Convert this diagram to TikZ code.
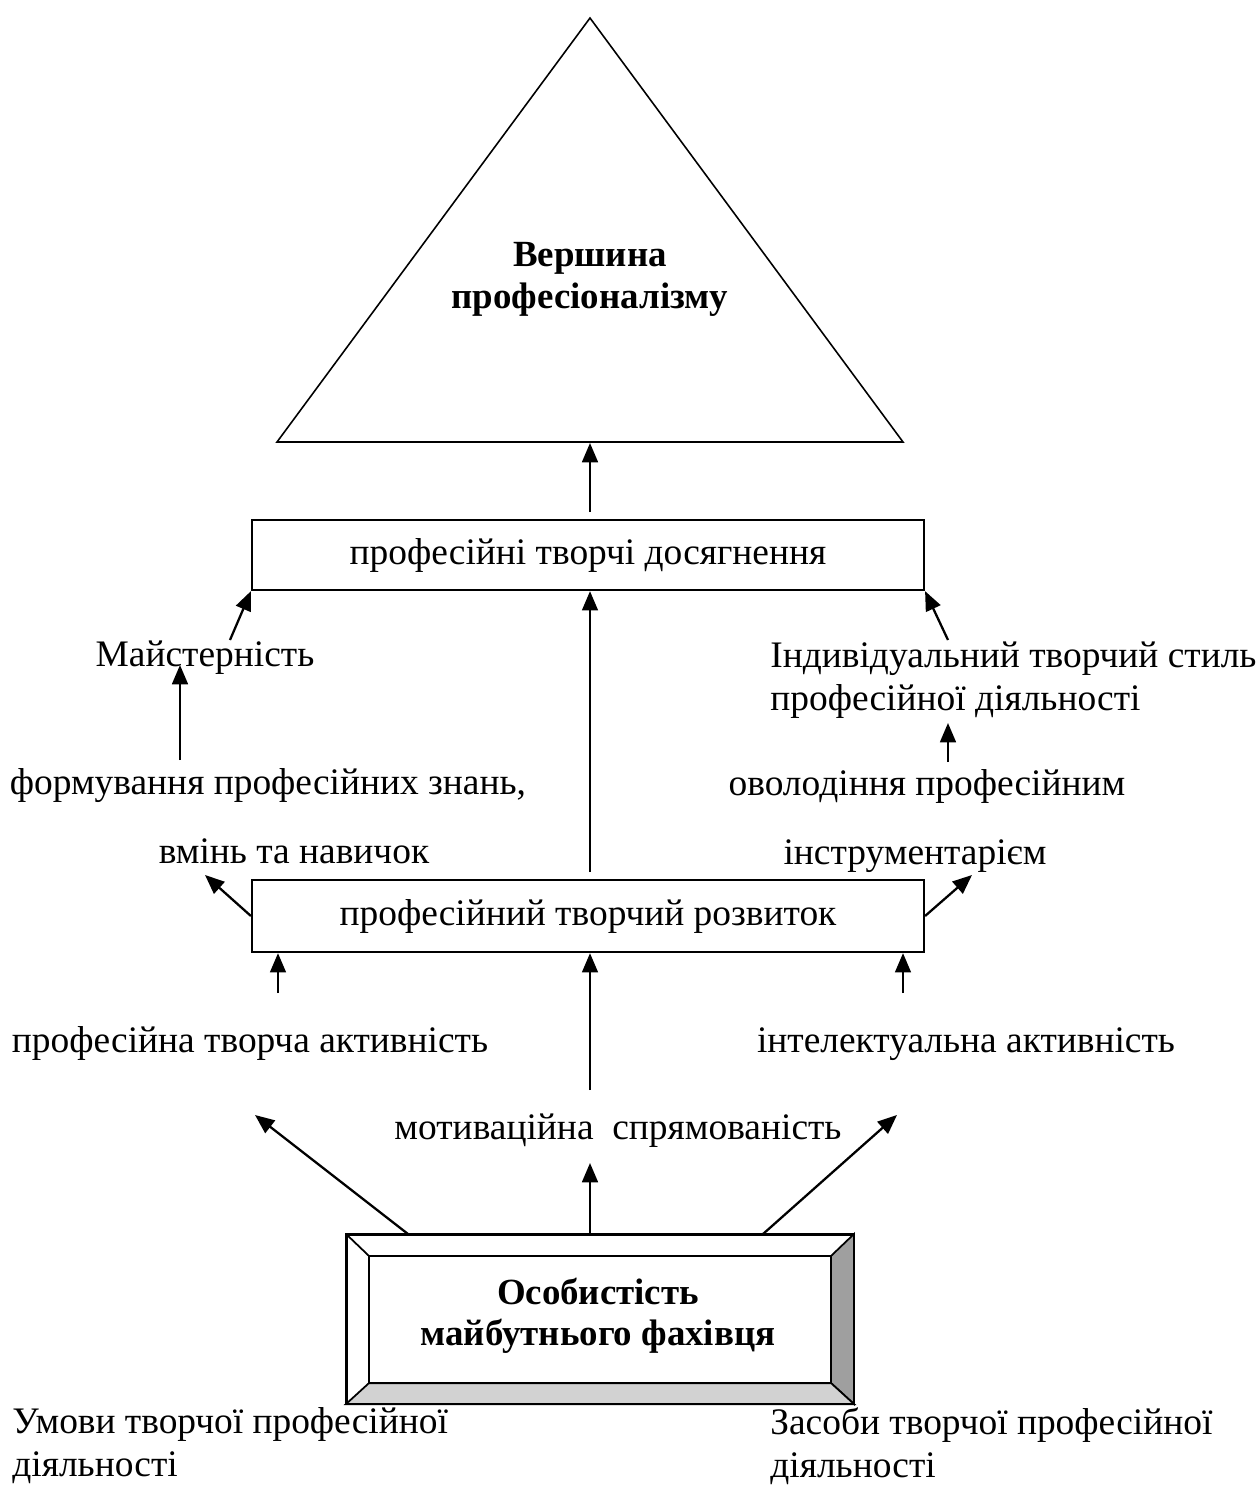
\documentclass[tikz,border=0pt]{standalone}
\usepackage{fontspec}
\setmainfont{Liberation Serif}
\usetikzlibrary{arrows.meta}
\tikzset{
  lbl/.style={inner sep=0pt, font=\fontsize{21.3}{24.5}\selectfont},
  boldlbl/.style={inner sep=0pt, align=center, font=\fontsize{21}{24}\selectfont\bfseries},
  stagebox/.style={draw, line width=1.3pt, minimum width=13.44cm, inner sep=0pt,
    font=\fontsize{21.3}{24.5}\selectfont},
  arr/.style={line width=1.3pt, -{Triangle[length=11pt,width=9pt]}},
}
\begin{document}
\begin{tikzpicture}[x=0.02cm, y=-0.02cm]
\useasboundingbox (0,0) rectangle (1260,1488);
% vertex
\draw[line width=0.9pt] (590,18) -- (903,442) -- (277,442) -- cycle;
\coordinate (apexbase) at (590,443);
\node[boldlbl] (peak) at (590,279) {Вершина\\професіоналізму};
% stage boxes
\node[stagebox, minimum height=1.4cm] (achieve) at (588,555) {професійні творчі досягнення};
\node[stagebox, minimum height=1.44cm] (develop) at (588,916) {професійний творчий розвиток};
% side labels
\node[lbl] (mastery) at (205,658) {Майстерність};
\node[lbl, anchor=west, align=left] (style) at (770,680) {Індивідуальний творчий стиль\\професійної діяльності};
\node[lbl] (skills1) at (268,786) {формування професійних знань,};
\node[lbl] (skills2) at (294,851) {вмінь та навичок};
\node[lbl] (tools1) at (927,786) {оволодіння професійним};
\node[lbl] (tools2) at (915,856) {інструментарієм};
\node[lbl, anchor=base] (creact) at (250,1052) {професійна творча активність};
\node[lbl, anchor=base] (intact) at (966,1052) {інтелектуальна активність};
\node[lbl] (motiv) at (618,1131) {мотиваційна\ \ спрямованість};
% personality box
\node[draw, line width=1.3pt, minimum width=10.12cm, minimum height=3.36cm, inner sep=0pt] (person) at (600,1319) {};
\coordinate (inw) at ([shift={(23,22)}]person.north west);
\coordinate (ine) at ([shift={(-23,22)}]person.north east);
\coordinate (ise) at ([shift={(-23,-21)}]person.south east);
\coordinate (isw) at ([shift={(23,-21)}]person.south west);
\filldraw[fill=gray!75, line width=1pt] (person.north east) -- (person.south east) -- (ise) -- (ine) -- cycle;
\filldraw[fill=gray!35, line width=1pt] (person.south west) -- (person.south east) -- (ise) -- (isw) -- cycle;
\draw[line width=1pt] (inw) rectangle (ise);
\draw[line width=1pt] (person.north west) -- (inw);
\draw[line width=1.3pt] (person.north west) rectangle (person.south east);
\node[boldlbl, font=\fontsize{21}{23.5}\selectfont\bfseries] (who) at (598,1316) {Особистість\\майбутнього фахівця};
% bottom labels
\node[lbl, anchor=west, align=left] (cond) at (12,1446) {Умови творчої професійної\\діяльності};
\node[lbl, anchor=west, align=left] (means) at (770,1446) {Засоби творчої професійної\\діяльності};
% arrows
\coordinate (a0) at (590,512);
\draw[arr] (a0) -- (apexbase);
\coordinate (m0) at (230,640);
\draw[arr] (m0) -- (achieve.south west);
\coordinate (s0) at (948,640);
\draw[arr] (s0) -- (achieve.south east);
\coordinate (k0) at (180,760);
\coordinate (k1) at (180,665);
\draw[arr] (k0) -- (k1);
\coordinate (t0) at (948,762);
\coordinate (t1) at (948,723);
\draw[arr] (t0) -- (t1);
\coordinate (d0) at (590,872);
\draw[arr] (d0) -- (achieve.south -| d0);
\coordinate (sk) at (205,875);
\draw[arr] (develop.west) -- (sk);
\coordinate (tk) at (972,875);
\draw[arr] (develop.east) -- (tk);
\coordinate (c0) at (278,993);
\draw[arr] (c0) -- (c0 |- develop.south);
\coordinate (i0) at (903,993);
\draw[arr] (i0) -- (i0 |- develop.south);
\coordinate (v0) at (590,1090);
\draw[arr] (v0) -- (v0 |- develop.south);
\coordinate (p0) at (590,1233);
\coordinate (p1) at (590,1163);
\draw[arr] (p0) -- (p1);
\coordinate (pl) at (408,1234);
\coordinate (pl1) at (255,1115);
\draw[arr] (pl) -- (pl1);
\coordinate (pr) at (763,1234);
\coordinate (pr1) at (897,1115);
\draw[arr] (pr) -- (pr1);
\end{tikzpicture}
\end{document}
